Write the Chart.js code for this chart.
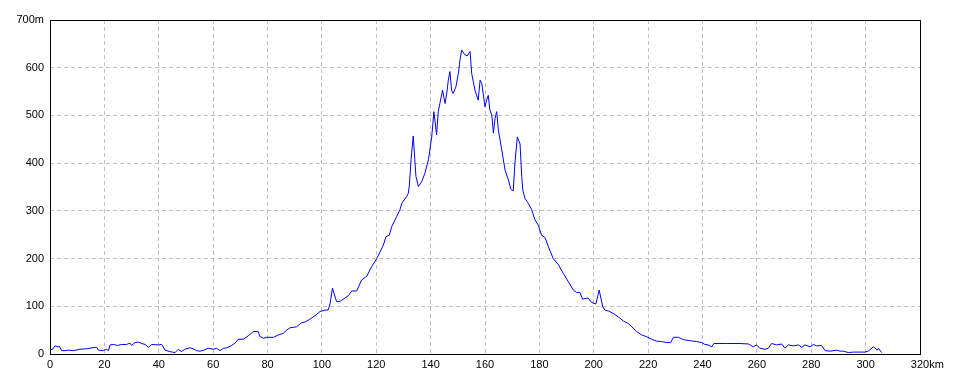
<!DOCTYPE html>
<html>
<head>
<meta charset="utf-8">
<script src="https://cdn.jsdelivr.net/npm/chart.js@4.4.0/dist/chart.umd.min.js"></script>
<style>
  body { margin: 0; background: #ffffff; }
  #wrap { width: 960px; height: 384px; }
</style>
</head>
<body>
<div id="wrap"><canvas id="profileChart"></canvas></div>
<script>
// Elevation profile data (distance in km, elevation in m)
const distances = [
  0, 1, 1.8, 3, 3.5, 4.3, 5.5, 6.8, 8.6, 11,
  13.5, 16.6, 17.2, 17.8, 19.6, 20.8, 21.5, 22.1, 23.3, 24.8,
  26.4, 28.2, 29.4, 30, 31.3, 32.5, 33.7, 35, 36.2, 37.4,
  39.9, 41.1, 42.3, 44.1, 46, 47.2, 48.4, 49.6, 51.5, 52.7,
  53.9, 55.2, 56.6, 58.2, 60.1, 61.3, 62.5, 63.8, 65, 66.8,
  68.1, 69.3, 71.1, 72.9, 74.8, 76.6, 77.2, 78.5, 79.7, 82.2,
  84, 85.8, 87, 88.3, 90.7, 92.6, 93.8, 95.6, 97.4, 99.3,
  101.1, 102.3, 103, 103.9, 105.4, 106.6, 109.7, 111, 112.8, 114.6,
  116.5, 118.3, 120.2, 122.6, 123.6, 124.8, 125.7, 127.5, 128.7, 129.4,
  131.2, 131.8, 132.2, 132.8, 133.6, 134.6, 135.5, 136.7, 137.9, 139.2,
  140.4, 141.2, 142.2, 142.8, 143.4, 144.4, 145.3, 145.9, 146.5, 147.1,
  147.7, 148.3, 149.3, 150.2, 150.8, 151.4, 152.6, 153.5, 154.5, 155.1,
  155.7, 156.3, 157.5, 158.2, 158.8, 160, 160.6, 161.2, 161.8, 162.5,
  163.1, 163.7, 164.3, 164.9, 166.1, 167.4, 168.6, 169.5, 170.4, 171,
  171.9, 172.9, 173.5, 173.9, 174.7, 175.9, 177.2, 178.4, 179.6, 180.8,
  182.1, 183.3, 185.1, 187, 188.8, 190.6, 192.5, 193.7, 194.9, 195.9,
  197.4, 198, 199.2, 200.8, 202, 203.3, 204.1, 205.4, 207.2, 209,
  210.9, 212.7, 214, 215.8, 217.6, 219.5, 221.3, 223.1, 225, 226.8,
  228.3, 229.3, 231.1, 233, 235.2, 237.9, 239.7, 240.9, 242.1, 243.4,
  244.2, 246.4, 248.9, 253.8, 256.9, 258.7, 259.9, 261.1, 263, 264.2,
  265.4, 267.3, 269.1, 270.3, 271.6, 273.4, 275.3, 276.5, 277.7, 279.6,
  280.8, 282, 283.8, 285.1, 286.9, 289.4, 290.6, 291.8, 293.6, 295.5,
  298, 299.8, 301, 302.8, 303.4, 304.3, 304.7, 305.9
];

const elevations = [
  8, 10, 17, 15, 16, 7, 7, 8, 7, 10,
  11, 14, 14, 8, 7, 10, 7, 19, 20, 18,
  20, 20, 23, 18, 24, 25, 22, 20, 14, 20,
  19, 20, 8, 5, 3, 10, 5, 10, 13, 11,
  7, 6, 8, 12, 10, 12, 7, 12, 13, 18,
  23, 31, 31, 38, 47, 47, 37, 33, 35, 35,
  40, 43, 50, 55, 57, 66, 67, 73, 80, 89,
  92, 92, 105, 138, 110, 110, 122, 132, 132, 155,
  163, 183, 200, 228, 246, 249, 267, 288, 302, 316,
  330, 337, 354, 407, 457, 372, 351, 361, 379, 407,
  455, 508, 459, 508, 525, 553, 525, 545, 574, 592,
  553, 546, 560, 588, 616, 637, 627, 625, 634, 588,
  571, 553, 532, 574, 567, 518, 532, 542, 511, 501,
  463, 494, 508, 470, 430, 385, 365, 345, 342, 400,
  455, 440, 372, 344, 326, 316, 302, 281, 270, 249,
  244, 225, 200, 187, 169, 152, 134, 129, 129, 115,
  117, 117, 108, 105, 134, 99, 92, 90, 85, 78,
  69, 64, 57, 47, 40, 36, 31, 27, 26, 24,
  24, 35, 35, 30, 28, 26, 24, 20, 19, 15,
  22, 22, 22, 22, 21, 15, 19, 12, 10, 12,
  22, 19, 21, 12, 19, 17, 19, 14, 19, 15,
  20, 17, 18, 7, 6, 8, 6, 6, 3, 4,
  4, 4, 6, 15, 13, 8, 12, 3
];

// Axis ranges and units
const xMax = 320;
const xStep = 20;
const yMax = 700;
const yStep = 100;
const xUnit = 'km';
const yUnit = 'm';

const labelFont = { family: 'Liberation Sans', size: 11 };
const xLabelPad = 4;

// Black frame round the plot area, plus the "km" suffix on the last x label
const framePlugin = {
  id: 'frame',
  afterDraw(chart) {
    const { ctx, chartArea: a } = chart;
    ctx.save();
    ctx.strokeStyle = '#000000';
    ctx.lineWidth = 1;
    ctx.strokeRect(Math.round(a.left) + 0.5, Math.round(a.top) + 0.5,
      Math.round(a.right - a.left), Math.round(a.bottom - a.top));

    // unit suffix after the last x tick number
    const xs = chart.scales.x;
    ctx.font = `${labelFont.size}px ${labelFont.family}`;
    ctx.fillStyle = '#000000';
    ctx.textBaseline = 'middle';
    ctx.textAlign = 'left';
    const numW = ctx.measureText(String(xMax)).width;
    ctx.fillText(xUnit, xs.getPixelForValue(xMax) + numW / 2,
      a.bottom + xLabelPad + labelFont.size * 1.2 / 2);
    ctx.restore();
  }
};

const points = distances.map((d, i) => ({ x: d, y: elevations[i] }));

new Chart(document.getElementById('profileChart'), {
  type: 'line',
  data: {
    datasets: [{
      data: points,
      borderColor: '#0000ff',
      borderWidth: 1,
      pointRadius: 0,
      tension: 0,
      fill: false
    }]
  },
  options: {
    responsive: true,
    maintainAspectRatio: false,
    animation: false,
    layout: { padding: { top: 20, right: 40, left: 0, bottom: 0 } },
    plugins: {
      legend: { display: false },
      tooltip: { enabled: false }
    },
    scales: {
      x: {
        type: 'linear',
        min: 0,
        max: xMax,
        afterFit: (scale) => { scale.height = 30; },
        border: { display: false, dash: [4, 3] },
        grid: {
          color: '#c0c0c0',
          drawTicks: false
        },
        ticks: {
          stepSize: xStep,
          padding: xLabelPad,
          color: '#000000',
          font: labelFont,
          maxRotation: 0,
          autoSkip: false,
          callback: (val) => String(val)
        }
      },
      y: {
        min: 0,
        max: yMax,
        afterFit: (scale) => { scale.width = 50; },
        border: { display: false, dash: [4, 3] },
        grid: {
          color: '#c0c0c0',
          drawTicks: false
        },
        ticks: {
          stepSize: yStep,
          padding: 6,
          color: '#000000',
          font: labelFont,
          callback: (val) => val === yMax ? val + yUnit : String(val)
        }
      }
    }
  },
  plugins: [framePlugin]
});
</script>
</body>
</html>
